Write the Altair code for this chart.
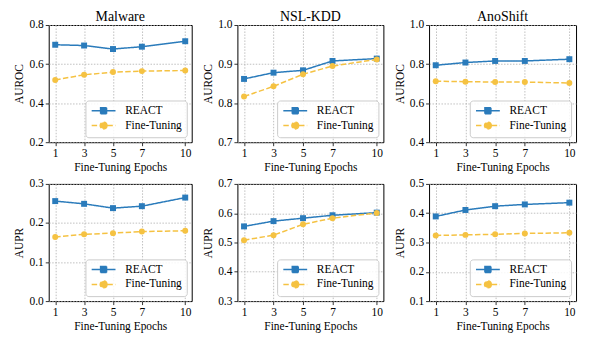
import altair as alt
import pandas as pd

epochs = [1, 3, 5, 7, 10]
datasets = ["Malware", "NSL-KDD", "AnoShift"]
series_names = ["REACT", "Fine-Tuning"]
series_colors = ["#2a7bbb", "#f5c242"]

malware_auroc_react = [0.699, 0.695, 0.677, 0.689, 0.717]
malware_auroc_ft = [0.519, 0.545, 0.559, 0.564, 0.567]
nslkdd_auroc_react = [0.862, 0.878, 0.884, 0.908, 0.914]
nslkdd_auroc_ft = [0.817, 0.843, 0.874, 0.895, 0.912]
anoshift_auroc_react = [0.794, 0.808, 0.816, 0.816, 0.825]
anoshift_auroc_ft = [0.712, 0.710, 0.708, 0.708, 0.703]

malware_aupr_react = [0.256, 0.249, 0.238, 0.243, 0.265]
malware_aupr_ft = [0.164, 0.171, 0.174, 0.178, 0.180]
nslkdd_aupr_react = [0.555, 0.573, 0.583, 0.593, 0.602]
nslkdd_aupr_ft = [0.508, 0.525, 0.562, 0.583, 0.601]
anoshift_aupr_react = [0.389, 0.411, 0.424, 0.430, 0.436]
anoshift_aupr_ft = [0.324, 0.326, 0.328, 0.331, 0.333]

malware_auroc_ticks = [0.2, 0.4, 0.6, 0.8]
nslkdd_auroc_ticks = [0.7, 0.8, 0.9, 1.0]
anoshift_auroc_ticks = [0.4, 0.6, 0.8, 1.0]
malware_aupr_ticks = [0.0, 0.1, 0.2, 0.3]
nslkdd_aupr_ticks = [0.3, 0.4, 0.5, 0.6, 0.7]
anoshift_aupr_ticks = [0.1, 0.2, 0.3, 0.4, 0.5]

FONT = "Liberation Serif"
DASHES = [[1, 0], [5.5, 2.4]]
POINT_SHAPES = ["square", "circle"]
# legend handles: line + marker (units of 4px, symbol size 64)
LEGEND_PATHS = [
    "M-1,0H5M1.25,-0.75H2.75V0.75H1.25Z",
    "M-1,0H5M2.85,0A0.85,0.85,0,1,1,1.15,0A0.85,0.85,0,1,1,2.85,0Z",
]


def panel(title, metric, react, ft, ticks, width, height):
    df = pd.DataFrame({
        "epoch": epochs * 2,
        "value": react + ft,
        "series": ["REACT"] * len(epochs) + ["Fine-Tuning"] * len(epochs),
    })
    x = alt.X("epoch:Q",
              scale=alt.Scale(domain=[0.55, 10.45], nice=False, zero=False),
              axis=alt.Axis(values=epochs, format="d", title="Fine-Tuning Epochs"))
    y = alt.Y("value:Q",
              scale=alt.Scale(domain=[ticks[0], ticks[-1]], nice=False, zero=False),
              axis=alt.Axis(values=ticks, format=".1f", title=metric))
    base = alt.Chart(df).encode(x=x, y=y)
    layers = []
    for s, col, dash, shape in zip(series_names, series_colors, DASHES, POINT_SHAPES):
        b = base.transform_filter(alt.datum.series == s)
        layers.append(b.mark_line(color=col, strokeWidth=1.5, strokeDash=dash))
        layers.append(b.mark_point(color=col, filled=True, size=36, opacity=1, shape=shape))

    leg = alt.Legend(title=None, orient="bottom-right", symbolSize=64,
                     labelOffset=24)
    legend_layer = alt.Chart(df).transform_filter("false").mark_point(
        filled=True, opacity=1, size=64, strokeWidth=1.5
    ).encode(
        fill=alt.Fill("series:N", scale=alt.Scale(domain=series_names, range=series_colors), legend=leg),
        stroke=alt.Stroke("series:N", scale=alt.Scale(domain=series_names, range=series_colors), legend=leg),
        shape=alt.Shape("series:N", scale=alt.Scale(domain=series_names, range=LEGEND_PATHS), legend=leg),
        strokeDash=alt.StrokeDash("series:N", scale=alt.Scale(domain=series_names, range=DASHES), legend=leg),
    )
    ch = alt.layer(*layers, legend_layer).properties(width=width, height=height)
    if title:
        ch = ch.properties(title=alt.TitleParams(title))
    return ch


widths = [144, 147, 148]
H = 118
panels = [
    panel("Malware", "AUROC", malware_auroc_react, malware_auroc_ft, malware_auroc_ticks, widths[0], H),
    panel("NSL-KDD", "AUROC", nslkdd_auroc_react, nslkdd_auroc_ft, nslkdd_auroc_ticks, widths[1], H),
    panel("AnoShift", "AUROC", anoshift_auroc_react, anoshift_auroc_ft, anoshift_auroc_ticks, widths[2], H),
    panel(None, "AUPR", malware_aupr_react, malware_aupr_ft, malware_aupr_ticks, widths[0], H),
    panel(None, "AUPR", nslkdd_aupr_react, nslkdd_aupr_ft, nslkdd_aupr_ticks, widths[1], H),
    panel(None, "AUPR", anoshift_aupr_react, anoshift_aupr_ft, anoshift_aupr_ticks, widths[2], H),
]

chart = alt.concat(
    *panels, columns=3,
    spacing=alt.RowColnumber(row=42, column=46),
    bounds="flush", align="each",
).resolve_scale(
    fill="independent", stroke="independent",
    shape="independent", strokeDash="independent",
).resolve_legend(
    fill="independent", stroke="independent", shape="independent", strokeDash="independent",
).properties(
    padding={"left": 5, "top": 0, "right": 5, "bottom": 0},
).configure(
    font=FONT,
).configure_view(
    stroke="black", strokeWidth=1,
).configure_axis(
    labelFont=FONT, titleFont=FONT, labelFontSize=11.5, titleFontSize=11.5,
    titleFontWeight=400, labelColor="black", titleColor="black",
    tickColor="black", tickSize=3.5, tickWidth=0.8, domain=False,
    gridColor="#b0b0b0", gridDash=[1.5, 1.5], gridWidth=0.8, labelPadding=2,
).configure_axisY(
    minExtent=21, maxExtent=21, titlePadding=3,
).configure_axisX(
    titlePadding=3,
).configure_title(
    font=FONT, fontSize=14, fontWeight=400, color="black", offset=-5,
).configure_legend(
    labelFont=FONT, labelFontSize=11.5, labelColor="black",
    strokeColor="#cccccc", cornerRadius=3, padding=4.5,
    fillColor="rgba(255,255,255,0.85)", offset=5, rowPadding=2,
)

chart.save("out.html", embed_options={"renderer": "svg", "actions": False})
